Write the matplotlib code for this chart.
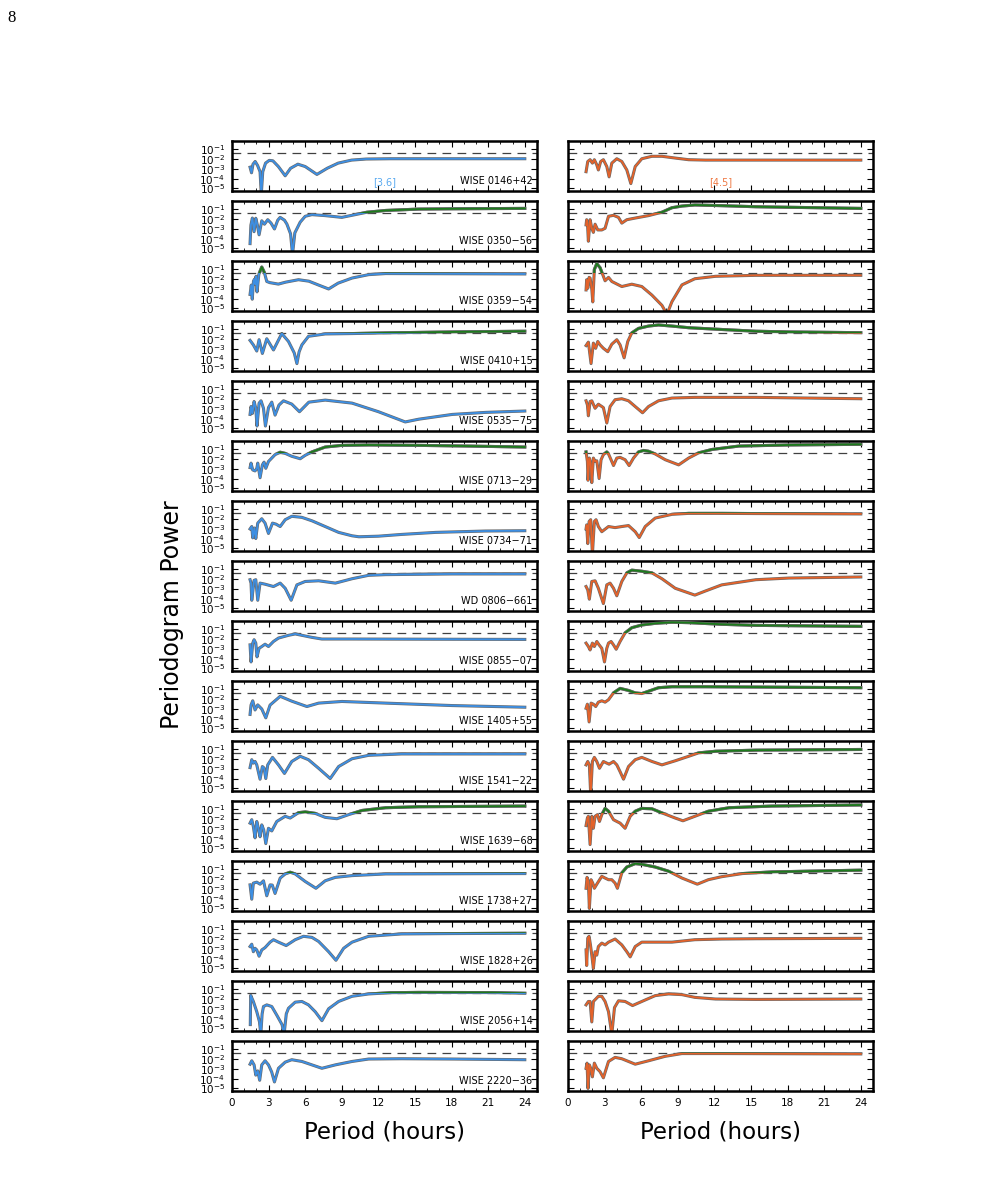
import numpy as np
import matplotlib
matplotlib.use('Agg')
import matplotlib.pyplot as plt
import matplotlib.patheffects as pe
from matplotlib.patches import Rectangle
from matplotlib.ticker import MultipleLocator, FixedLocator, LogLocator, NullFormatter

# source names, top to bottom
names = ['WISE 0146+42', 'WISE 0350\u221256', 'WISE 0359\u221254', 'WISE 0410+15',
         'WISE 0535\u221275', 'WISE 0713\u221229', 'WISE 0734\u221271', 'WD 0806\u2212661',
         'WISE 0855\u221207', 'WISE 1405+55', 'WISE 1541\u221222', 'WISE 1639\u221268',
         'WISE 1738+27', 'WISE 1828+26', 'WISE 2056+14', 'WISE 2220\u221236']

# (period [h], log10 periodogram power)
# [3.6] channel
w0146_36 = [(1.48,-2.82),(1.60,-3.39),(1.72,-2.51),(1.90,-2.23),(2.10,-2.65),(2.30,-3.28),(2.40,-5.6),(2.52,-3.28),(2.75,-2.40),(3.05,-2.12),(3.35,-2.16),(3.8,-2.75),(4.36,-3.70),(4.8,-2.93),(5.4,-2.51),(6.0,-2.75),(6.96,-3.56),(7.8,-2.93),(8.7,-2.40),(9.8,-2.09),(11.0,-1.98),(13,-1.95),(24,-1.95)]
w0350_36 = [(1.48,-4.5),(1.55,-2.6),(1.67,-1.88),(1.81,-3.28),(1.95,-1.9),(2.08,-2.6),(2.22,-3.6),(2.44,-2.16),(2.66,-2.51),(2.93,-2.05),(3.2,-2.4),(3.48,-3.0),(3.75,-2.1),(3.95,-1.81),(4.3,-2.1),(4.5,-2.5),(4.8,-3.5),(4.96,-5.6),(5.15,-3.4),(5.59,-2.3),(6.0,-1.7),(6.55,-1.53),(7.64,-1.63),(9.0,-1.81),(10.1,-1.53),(11.07,-1.28),(12.6,-1.1),(15.3,-0.96),(18,-0.93),(24,-0.89)]
w0359_36 = [(1.48,-3.56),(1.58,-2.6),(1.66,-4.05),(1.76,-2.2),(1.84,-2.0),(1.90,-2.5),(1.97,-1.7),(2.05,-3.3),(2.2,-1.5),(2.44,-0.75),(2.65,-1.3),(2.85,-2.23),(3.1,-2.35),(3.8,-2.5),(4.4,-2.3),(5.45,-2.05),(6.3,-2.2),(7.1,-2.6),(7.92,-3.0),(8.7,-2.4),(9.84,-1.88),(11.2,-1.53),(12.6,-1.42),(24,-1.46)]
w0410_36 = [(1.48,-2.12),(1.75,-2.58),(2.03,-3.21),(2.22,-2.05),(2.49,-3.46),(2.85,-1.95),(3.40,-3.1),(4.08,-1.42),(4.63,-2.23),(5.1,-3.4),(5.32,-4.5),(5.5,-3.3),(5.73,-2.58),(6.27,-1.70),(7.64,-1.46),(9.84,-1.42),(12.6,-1.35),(18.05,-1.25),(24,-1.18)]
w0535_36 = [(1.48,-3.56),(1.56,-2.75),(1.67,-3.46),(1.81,-2.23),(1.95,-2.93),(2.05,-4.75),(2.22,-2.40),(2.38,-2.16),(2.58,-2.93),(2.74,-4.75),(2.99,-2.86),(3.26,-2.30),(3.53,-3.63),(3.85,-2.6),(4.22,-2.16),(4.9,-2.5),(5.53,-3.28),(6.3,-2.3),(7.64,-2.09),(9.84,-2.40),(12.0,-3.28),(14.2,-4.33),(15.3,-4.05),(18.05,-3.56),(20.8,-3.35),(24,-3.21)]
w0713_36 = [(1.48,-2.86),(1.56,-2.40),(1.70,-3.1),(1.89,-3.2),(2.03,-2.95),(2.11,-2.40),(2.30,-3.9),(2.49,-2.58),(2.63,-2.3),(2.77,-2.93),(2.99,-2.23),(3.53,-1.53),(3.95,-1.28),(4.36,-1.40),(4.90,-1.70),(5.59,-1.95),(6.0,-1.60),(6.55,-1.25),(7.64,-0.75),(9.01,-0.58),(11.2,-0.54),(15.3,-0.58),(19.4,-0.65),(24,-0.75)]
w0734_36 = [(1.48,-3.0),(1.62,-2.75),(1.70,-3.91),(1.84,-2.9),(1.95,-3.98),(2.11,-2.40),(2.44,-1.95),(2.71,-2.40),(2.99,-3.46),(3.32,-2.40),(3.6,-2.5),(3.95,-2.75),(4.36,-2.05),(4.90,-1.70),(5.73,-1.81),(6.55,-2.16),(7.64,-2.75),(8.74,-3.35),(9.84,-3.70),(10.4,-3.8),(12.0,-3.74),(13.9,-3.56),(16.7,-3.35),(20.8,-3.21),(24,-3.18)]
wd0806_36 = [(1.48,-2.05),(1.56,-2.4),(1.62,-4.16),(1.81,-2.12),(1.95,-2.05),(2.11,-4.16),(2.30,-2.40),(2.71,-2.51),(3.40,-2.75),(3.95,-2.40),(4.36,-2.93),(4.85,-4.16),(5.32,-2.58),(6.0,-2.23),(7.1,-2.16),(8.47,-2.40),(9.84,-1.95),(11.2,-1.6),(12.6,-1.53),(18.05,-1.46),(24,-1.46)]
w0855_36 = [(1.48,-2.58),(1.56,-4.33),(1.70,-2.40),(1.81,-2.05),(1.95,-2.40),(2.05,-3.81),(2.22,-2.93),(2.44,-2.75),(2.71,-2.51),(2.99,-2.75),(3.40,-2.23),(3.81,-1.88),(4.63,-1.60),(5.18,-1.46),(5.73,-1.60),(6.55,-1.81),(7.37,-1.98),(9.84,-1.98),(24,-2.02)]
w1405_36 = [(1.48,-3.56),(1.56,-2.6),(1.70,-2.16),(1.89,-3.1),(2.11,-2.58),(2.44,-3.0),(2.77,-3.91),(3.12,-2.6),(3.95,-1.70),(4.90,-2.2),(6.14,-2.75),(7.1,-2.40),(9.01,-2.23),(12.6,-2.40),(18.05,-2.65),(24,-2.82)]
w1541_36 = [(1.48,-2.86),(1.62,-2.05),(1.75,-2.40),(1.89,-2.23),(2.03,-2.58),(2.30,-4.05),(2.49,-2.75),(2.63,-2.9),(2.77,-3.98),(2.93,-2.58),(3.32,-1.81),(3.81,-2.58),(4.30,-3.46),(4.90,-2.23),(5.59,-1.70),(6.27,-2.05),(7.10,-2.93),(8.05,-3.98),(8.74,-2.75),(9.84,-1.95),(11.2,-1.60),(13.9,-1.46),(24,-1.46)]
w1639_36 = [(1.48,-2.40),(1.62,-2.05),(1.75,-2.75),(1.89,-3.91),(2.03,-2.23),(2.16,-2.93),(2.30,-3.8),(2.44,-2.58),(2.60,-3.1),(2.77,-4.5),(2.99,-2.93),(3.26,-3.2),(3.67,-2.23),(4.36,-1.70),(4.77,-1.88),(5.45,-1.33),(6.0,-1.25),(6.82,-1.40),(7.64,-1.81),(8.60,-1.95),(9.56,-1.53),(10.66,-1.1),(12.6,-0.82),(15.3,-0.72),(24,-0.65)]
w1738_36 = [(1.48,-2.58),(1.62,-4.05),(1.75,-2.40),(2.03,-2.30),(2.30,-2.51),(2.58,-2.16),(2.85,-3.70),(3.12,-2.58),(3.3,-2.6),(3.53,-3.46),(3.95,-1.88),(4.36,-1.46),(4.77,-1.28),(5.18,-1.46),(6.0,-2.23),(6.88,-2.93),(7.64,-2.16),(8.47,-1.81),(9.84,-1.63),(12.6,-1.46),(24,-1.42)]
w1828_36 = [(1.48,-2.75),(1.62,-2.51),(1.75,-3.28),(1.89,-2.93),(2.03,-3.1),(2.22,-3.74),(2.44,-3.1),(2.71,-2.86),(3.12,-2.30),(3.40,-2.05),(3.81,-2.30),(4.44,-2.65),(5.18,-2.05),(5.86,-1.70),(6.55,-1.81),(7.10,-2.23),(7.92,-3.28),(8.52,-4.16),(9.15,-2.93),(9.84,-2.30),(11.2,-1.70),(13.9,-1.46),(18.05,-1.42),(24,-1.39)]
w2056_36 = [(1.50,-4.6),(1.53,-1.6),(1.75,-2.23),(2.03,-3.28),(2.25,-4.3),(2.36,-5.6),(2.47,-3.5),(2.58,-2.75),(2.85,-2.58),(3.26,-2.75),(3.67,-3.63),(4.1,-4.6),(4.27,-5.6),(4.45,-3.5),(4.63,-2.93),(5.18,-2.30),(5.73,-2.23),(6.27,-2.58),(6.82,-3.28),(7.37,-4.2),(7.92,-2.98),(8.74,-2.23),(9.84,-1.70),(11.2,-1.46),(13.0,-1.33),(15.3,-1.30),(21.3,-1.32),(24,-1.39)]
w2220_36 = [(1.48,-2.51),(1.62,-2.16),(1.81,-2.58),(1.95,-3.63),(2.11,-3.2),(2.27,-4.16),(2.44,-2.58),(2.71,-2.16),(2.99,-2.58),(3.25,-3.3),(3.48,-4.33),(3.81,-2.93),(4.36,-2.30),(4.90,-2.05),(5.73,-2.23),(6.55,-2.58),(7.37,-2.93),(8.47,-2.58),(9.84,-2.23),(11.2,-1.98),(13.9,-1.95),(18.05,-1.98),(24,-2.05)]

# [4.5] channel
w0146_45 = [(1.48,-3.28),(1.62,-2.23),(1.81,-2.05),(2.0,-2.40),(2.16,-2.05),(2.36,-2.58),(2.49,-3.1),(2.68,-2.23),(2.90,-2.05),(3.18,-2.75),(3.37,-3.81),(3.59,-2.40),(4.0,-1.95),(4.41,-2.23),(4.82,-3.1),(5.15,-4.5),(5.51,-2.75),(6.05,-1.95),(6.88,-1.70),(7.70,-1.70),(8.79,-1.88),(9.89,-2.05),(11.26,-2.09),(15.4,-2.09),(24,-2.09)]
w0350_45 = [(1.48,-2.58),(1.53,-2.05),(1.59,-2.3),(1.67,-4.26),(1.81,-2.05),(1.95,-2.93),(2.08,-3.35),(2.22,-2.51),(2.44,-3.1),(2.77,-3.1),(3.04,-2.93),(3.32,-1.70),(3.73,-1.60),(4.14,-1.81),(4.41,-2.40),(4.82,-2.05),(5.51,-1.88),(6.60,-1.63),(7.70,-1.28),(8.52,-0.82),(9.34,-0.65),(10.4,-0.54),(12.6,-0.61),(15.4,-0.72),(24,-0.89)]
w0359_45 = [(1.48,-3.1),(1.53,-2.05),(1.62,-2.93),(1.73,-1.81),(1.81,-1.88),(1.95,-3.0),(2.03,-4.33),(2.16,-1.0),(2.36,-0.40),(2.63,-0.82),(2.90,-1.70),(3.04,-2.16),(3.32,-1.81),(3.59,-2.23),(4.41,-2.75),(5.23,-2.51),(6.05,-2.75),(6.88,-3.63),(7.70,-4.68),(8.11,-5.6),(8.52,-4.3),(9.34,-2.58),(10.4,-1.95),(12.1,-1.70),(15.4,-1.60),(24,-1.60)]
w0410_45 = [(1.48,-2.65),(1.67,-2.30),(1.89,-4.5),(2.08,-2.40),(2.27,-2.93),(2.44,-2.23),(2.63,-2.58),(2.90,-2.93),(3.26,-3.28),(3.59,-2.51),(4.0,-2.05),(4.27,-2.58),(4.60,-3.91),(4.90,-2.23),(5.23,-1.35),(5.78,-0.89),(6.60,-0.65),(7.42,-0.54),(8.52,-0.65),(9.89,-0.82),(12.6,-1.0),(15.4,-1.18),(18.1,-1.25),(24,-1.33)]
w0535_45 = [(1.48,-2.16),(1.59,-2.58),(1.67,-3.70),(1.81,-2.23),(1.95,-2.16),(2.22,-2.93),(2.49,-2.51),(2.90,-2.86),(3.18,-4.44),(3.45,-2.75),(3.86,-2.05),(4.41,-1.95),(4.96,-2.16),(5.51,-2.75),(6.11,-3.39),(6.60,-2.75),(7.42,-2.16),(8.52,-1.88),(10.4,-1.81),(15.4,-1.81),(24,-1.95)]
w0713_45 = [(1.48,-1.25),(1.59,-2.23),(1.64,-4.16),(1.75,-1.88),(1.86,-2.40),(1.95,-4.4),(2.08,-1.88),(2.22,-2.23),(2.36,-2.16),(2.55,-3.98),(2.71,-2.05),(2.90,-1.53),(3.18,-1.25),(3.32,-1.46),(3.59,-2.23),(3.73,-2.65),(4.0,-1.88),(4.27,-1.81),(4.68,-2.05),(5.01,-2.65),(5.37,-1.88),(5.78,-1.25),(6.19,-1.1),(6.60,-1.18),(7.15,-1.46),(7.97,-2.05),(9.07,-2.58),(9.89,-1.88),(10.7,-1.35),(11.8,-1.0),(14.0,-0.65),(18.1,-0.54),(24,-0.47)]
w0734_45 = [(1.48,-3.0),(1.53,-2.58),(1.62,-4.5),(1.73,-2.23),(1.86,-2.05),(2.0,-5.6),(2.16,-2.23),(2.30,-2.05),(2.49,-2.75),(2.77,-3.28),(3.32,-2.75),(3.86,-2.86),(4.41,-2.75),(4.96,-2.65),(5.51,-3.28),(5.84,-3.88),(6.33,-2.75),(7.15,-1.88),(8.52,-1.50),(9.89,-1.40),(12.6,-1.40),(15.4,-1.42),(24,-1.46)]
wd0806_45 = [(1.48,-2.75),(1.62,-3.1),(1.75,-4.05),(1.95,-2.23),(2.22,-2.16),(2.49,-2.93),(2.90,-4.5),(3.18,-2.58),(3.45,-2.40),(3.73,-2.93),(4.0,-3.7),(4.41,-2.23),(4.82,-1.35),(5.23,-1.07),(6.05,-1.18),(6.88,-1.35),(7.70,-1.95),(8.79,-2.93),(10.4,-3.63),(11.26,-3.21),(12.6,-2.58),(15.4,-2.05),(18.1,-1.88),(24,-1.77)]
w0855_45 = [(1.48,-2.40),(1.67,-2.75),(1.81,-3.1),(2.0,-2.40),(2.16,-2.75),(2.36,-2.23),(2.55,-2.58),(2.77,-2.93),(2.99,-4.33),(3.18,-2.93),(3.32,-2.40),(3.53,-2.23),(3.73,-2.58),(3.95,-3.03),(4.27,-2.23),(4.68,-1.35),(5.23,-0.82),(6.05,-0.54),(7.15,-0.37),(8.52,-0.26),(9.89,-0.30),(12.6,-0.47),(15.4,-0.58),(24,-0.68)]
w1405_45 = [(1.48,-2.93),(1.59,-2.51),(1.73,-4.33),(1.89,-2.40),(2.08,-2.51),(2.27,-2.75),(2.49,-2.30),(2.77,-2.16),(3.04,-2.30),(3.32,-2.05),(3.73,-1.35),(4.27,-0.89),(4.96,-1.1),(5.51,-1.35),(6.05,-1.42),(6.60,-1.18),(7.42,-0.82),(8.52,-0.72),(11.26,-0.72),(15.4,-0.75),(24,-0.82)]
w1541_45 = [(1.48,-2.58),(1.62,-2.23),(1.75,-2.58),(1.86,-5.6),(2.0,-2.23),(2.16,-1.81),(2.36,-2.23),(2.58,-2.93),(2.90,-2.23),(3.18,-2.40),(3.37,-2.51),(3.73,-2.23),(4.0,-2.58),(4.27,-3.28),(4.55,-4.05),(4.96,-2.75),(5.51,-2.05),(6.05,-1.81),(6.88,-2.23),(7.70,-2.58),(8.79,-2.16),(9.89,-1.70),(10.7,-1.35),(12.1,-1.18),(15.4,-1.07),(24,-1.0)]
w1639_45 = [(1.48,-2.65),(1.59,-1.88),(1.67,-1.70),(1.81,-4.6),(1.95,-1.70),(2.08,-2.93),(2.22,-1.70),(2.41,-1.53),(2.58,-2.23),(2.77,-1.53),(3.04,-0.89),(3.32,-1.18),(3.73,-2.05),(4.0,-2.23),(4.27,-2.40),(4.68,-2.93),(5.10,-1.70),(5.51,-1.18),(6.05,-0.89),(6.88,-0.93),(7.70,-1.35),(8.79,-1.88),(9.42,-2.16),(10.4,-1.70),(11.5,-1.18),(13.2,-0.82),(16.7,-0.65),(24,-0.54)]
w1738_45 = [(1.48,-2.93),(1.56,-1.81),(1.67,-2.23),(1.75,-5.0),(1.89,-2.05),(2.03,-2.40),(2.16,-2.93),(2.36,-2.51),(2.77,-1.70),(3.04,-1.88),(3.32,-2.05),(3.59,-2.05),(3.86,-2.40),(4.05,-2.93),(4.41,-1.35),(4.82,-0.75),(5.51,-0.40),(6.05,-0.47),(7.15,-0.75),(8.25,-1.18),(9.34,-1.88),(10.6,-2.51),(11.5,-2.05),(12.6,-1.74),(14.3,-1.42),(16.7,-1.25),(24,-1.07)]
w1828_45 = [(1.48,-3.1),(1.53,-4.7),(1.62,-1.88),(1.73,-1.70),(1.84,-2.58),(1.95,-3.63),(2.08,-5.0),(2.22,-3.28),(2.36,-3.63),(2.49,-2.75),(2.77,-2.40),(3.04,-2.58),(3.32,-2.30),(3.86,-1.98),(4.41,-2.58),(4.82,-3.28),(5.10,-3.81),(5.51,-2.75),(6.05,-2.30),(7.15,-2.30),(8.52,-2.30),(10.4,-2.05),(12.6,-1.98),(15.4,-1.95),(24,-1.91)]
w2056_45 = [(1.48,-2.58),(1.67,-2.23),(1.81,-2.23),(1.95,-4.33),(2.08,-2.23),(2.22,-2.05),(2.49,-1.70),(2.77,-1.70),(3.04,-2.23),(3.32,-3.28),(3.59,-5.6),(3.81,-2.86),(4.14,-2.16),(4.68,-2.23),(5.29,-2.65),(6.05,-2.23),(7.15,-1.63),(8.25,-1.46),(9.34,-1.53),(10.4,-1.81),(12.1,-1.98),(15.4,-2.02),(24,-1.98)]
w2220_45 = [(1.48,-2.93),(1.56,-2.40),(1.64,-5.0),(1.75,-2.58),(1.86,-2.93),(2.0,-3.81),(2.16,-2.40),(2.36,-2.93),(2.63,-3.28),(2.90,-3.91),(3.32,-2.23),(3.86,-1.81),(4.41,-1.95),(5.51,-2.51),(6.60,-2.16),(7.97,-1.70),(9.34,-1.42),(10.4,-1.42),(12.6,-1.42),(24,-1.46)]

ch1 = [w0146_36, w0350_36, w0359_36, w0410_36, w0535_36, w0713_36, w0734_36, wd0806_36,
       w0855_36, w1405_36, w1541_36, w1639_36, w1738_36, w1828_36, w2056_36, w2220_36]
ch2 = [w0146_45, w0350_45, w0359_45, w0410_45, w0535_45, w0713_45, w0734_45, wd0806_45,
       w0855_45, w1405_45, w1541_45, w1639_45, w1738_45, w1828_45, w2056_45, w2220_45]

fap_level = 10**-1.37   # dashed significance line
xticks = [0, 3, 6, 9, 12, 15, 18, 21, 24]

blue = '#3d8fe3'
orange = '#e4622a'
green = '#1c7a1c'

W, H = 983, 1178
fig = plt.figure(figsize=(W / 100, H / 100), dpi=100)

col_x = [232, 568]
ax_w = 305
ax_h = 50
row_top = 141
row_step = 60

outline = [pe.Stroke(linewidth=2.2, foreground='#6a6a6a'), pe.Normal()]

for col, data, color in [(0, ch1, blue), (1, ch2, orange)]:
    for i in range(16):
        top = row_top + i * row_step
        ax = fig.add_axes([col_x[col] / W, 1 - (top + ax_h) / H, ax_w / W, ax_h / H])
        per = np.array([p for p, v in data[i]])
        pw = 10 ** np.array([v for p, v in data[i]])

        ax.axhline(fap_level, color='#404040', lw=0.9, dashes=(7, 5), zorder=1)
        ax.plot(per, pw, color=color, lw=1.3, path_effects=outline, zorder=2)
        # part above the significance line drawn in green
        ln, = ax.plot(per, pw, color=green, lw=1.3, path_effects=outline, zorder=3)
        ln.set_clip_path(Rectangle((-1, fap_level), 30, 10, transform=ax.transData))

        ax.set_yscale('log')
        ax.set_ylim(5.5e-6, 0.74)
        ax.set_xlim(0, 25)
        ax.yaxis.set_major_locator(FixedLocator([1e-5, 1e-4, 1e-3, 1e-2, 1e-1]))
        ax.yaxis.set_minor_locator(LogLocator(base=10, subs=np.arange(2, 10)))
        ax.yaxis.set_minor_formatter(NullFormatter())
        ax.xaxis.set_major_locator(FixedLocator(xticks))
        ax.xaxis.set_minor_locator(MultipleLocator(1))
        ax.tick_params(which='both', direction='in', top=True, right=True)
        ax.tick_params(which='major', length=4, width=0.8, labelsize=7.5, pad=5)
        ax.tick_params(which='minor', length=2, width=0.6)
        for s in ax.spines.values():
            s.set_linewidth(1.8)
        if col == 1:
            ax.set_yticklabels([])
        if i < 15:
            ax.set_xticklabels([])
        else:
            ax.tick_params(axis='x', pad=5, labelsize=7.5)
        if col == 0:
            ax.text(0.985, 0.2, names[i], transform=ax.transAxes, ha='right', va='center',
                    fontsize=7)
        if i == 0:
            lab, lc = ('[3.6]', '#5aaaf0') if col == 0 else ('[4.5]', '#ee7a45')
            ax.text(0.5, 0.18, lab, transform=ax.transAxes, ha='center', va='center',
                    fontsize=7, color=lc)

fig.text(172 / W, 1 - 615 / H, 'Periodogram Power', rotation=90, ha='center', va='center',
         fontsize=17)
fig.text(385 / W, 1 - 1132 / H, 'Period (hours)', ha='center', va='center', fontsize=16.5)
fig.text(721 / W, 1 - 1132 / H, 'Period (hours)', ha='center', va='center', fontsize=16.5)
fig.text(12 / W, 1 - 18 / H, '8', ha='center', va='center', fontsize=12,
         family='Liberation Serif')

fig.savefig('out.png', dpi=100)
